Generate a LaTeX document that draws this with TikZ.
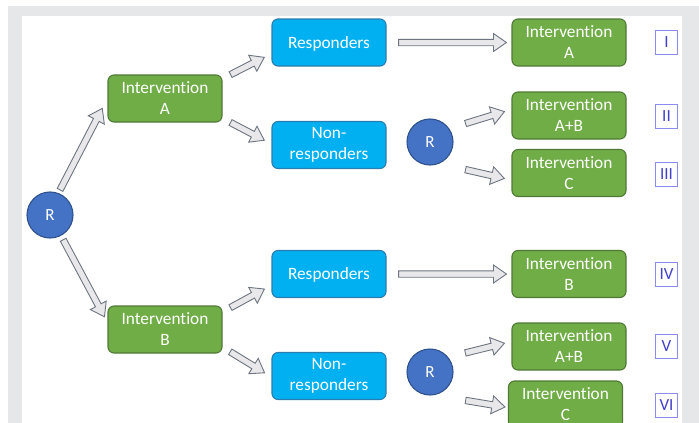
\documentclass[tikz,border=0pt]{standalone}
\usepackage{fontspec}
\setmainfont{Carlito}[Ligatures=NoCommon]
\usetikzlibrary{calc}

\definecolor{framegrey}{HTML}{E6E7E9}
\definecolor{greenfill}{HTML}{70AD47}
\definecolor{greenline}{HTML}{4F7A35}
\definecolor{bluefill}{HTML}{00B0F0}
\definecolor{blueline}{HTML}{2A7DB0}
\definecolor{rfill}{HTML}{4472C4}
\definecolor{rline}{HTML}{2F528F}
\definecolor{arrowfill}{HTML}{E8E8EA}
\definecolor{arrowline}{HTML}{6E7580}
\definecolor{armline}{HTML}{8C8CF0}
\definecolor{armtext}{HTML}{4040CC}

\def\bastart{5pt}
\def\baend{5pt}

\tikzset{
  ba start/.store in=\bastart,
  ba end/.store in=\baend,
  greenbox/.style={rectangle, rounded corners=6pt, draw=greenline, fill=greenfill, line width=1.1pt,
    minimum width=114pt, minimum height=47pt, inner sep=1pt, align=center, text=white,
    font=\fontsize{17.3}{21}\selectfont},
  bluebox/.style={greenbox, draw=blueline, fill=bluefill},
  oneline/.style={text height=11pt, text depth=0pt},
  rnode/.style={circle, draw=rline, fill=rfill, line width=1.1pt, minimum size=46pt, inner sep=0pt,
    text=white, font=\fontsize{17}{17}\selectfont},
  armlabel/.style={rectangle, draw=armline, line width=0.9pt, minimum width=22pt, minimum height=24pt,
    inner sep=0pt, text=armtext, font=\fontsize{17}{17}\selectfont},
  blockarrow/.style={draw=arrowline, fill=arrowfill, line width=0.9pt, line join=miter,
    to path={let \p1=($(\tikztotarget)-(\tikztostart)$), \n1={atan2(\y1,\x1)}, \n2={veclen(\x1,\y1)} in
      [shift={(\tikztostart)}, rotate=\n1]
      (\bastart,-3.2pt) -- ({\n2-\baend-13pt},-3.2pt) -- ({\n2-\baend-13pt},-9pt)
      -- ({\n2-\baend},0pt) -- ({\n2-\baend-13pt},9pt) -- ({\n2-\baend-13pt},3.2pt)
      -- (\bastart,3.2pt) -- cycle}}
}

\begin{document}
\begin{tikzpicture}[x=1pt, y=-1pt]
% Frame
    \useasboundingbox (0,0) rectangle (699,423);
    \fill[white] (0,0) rectangle (699,423);
    \fill[framegrey] (8,6) rectangle (699,423);
    \fill[white] (22,16) rectangle (682,423);
% First randomisation
    \node[rnode] (R0) at (50,215) {R};
    \node[greenbox] (iA) at (165,98.5) {Intervention\\A};
    \node[greenbox] (iB) at (165,329.5) {Intervention\\B};
% Response
    \node[bluebox, oneline] (rspA) at (329,42.5) {Responders};
    \node[bluebox] (nonA) at (329,145) {Non-\\responders};
    \node[bluebox, oneline] (rspB) at (329,274) {Responders};
    \node[bluebox] (nonB) at (329,376) {Non-\\responders};
% Second randomisation
    \node[rnode] (R1) at (430,142) {R};
    \node[rnode] (R2) at (430,372) {R};
% Final arms
    \node[greenbox] (outA) at (569,42.5) {Intervention\\A};
    \node[greenbox] (outAB1) at (569,115.5) {Intervention\\A+B};
    \node[greenbox] (outC1) at (569,173) {Intervention\\C};
    \node[greenbox] (outB) at (569,274) {Intervention\\B};
    \node[greenbox] (outAB2) at (569,346.5) {Intervention\\A+B};
    \node[greenbox] (outC2) at (565.5,404.5) {Intervention\\C};
% Arm numbers
    \node[armlabel] (arm1) at (666.5,42.5) {I};
    \node[armlabel] (arm2) at (666.5,116) {II};
    \node[armlabel] (arm3) at (666.5,174) {III};
    \node[armlabel] (arm4) at (666.5,274) {IV};
    \node[armlabel] (arm5) at (666.5,346) {V};
    \node[armlabel] (arm6) at (666.5,405) {VI};
% Arrows
    \draw[blockarrow, ba start=3.5pt, ba end=11pt] (R0.69) to (iA.west);
    \draw[blockarrow, ba start=4.5pt, ba end=6.3pt] (R0.-62) to (iB.173);
    \draw[blockarrow, ba start=9pt, ba end=8pt] (iA.19) to (rspA.191);
    \draw[blockarrow, ba start=9pt, ba end=8pt] (iA.-19) to (nonA.179);
    \draw[blockarrow, ba start=9pt, ba end=8pt] (iB.17) to (rspB.191);
    \draw[blockarrow, ba start=9pt, ba end=8pt] (iB.-17) to (nonB.181);
    \draw[blockarrow, ba start=12pt, ba end=5pt] (rspA.east) to (outA.west);
    \draw[blockarrow, ba start=12pt, ba end=5pt] (rspB.east) to (outB.west);
    \draw[blockarrow, ba start=17pt, ba end=7.3pt] (R1.35) to (outAB1.174);
    \draw[blockarrow, ba start=27pt, ba end=7.3pt] (R1.-67) to (outC1.187);
    \draw[blockarrow, ba start=17.6pt, ba end=7.2pt] (R2.39) to (outAB2.175);
    \draw[blockarrow, ba start=32pt, ba end=3pt] (R2.-80) to (outC2.183);
\end{tikzpicture}
\end{document}
